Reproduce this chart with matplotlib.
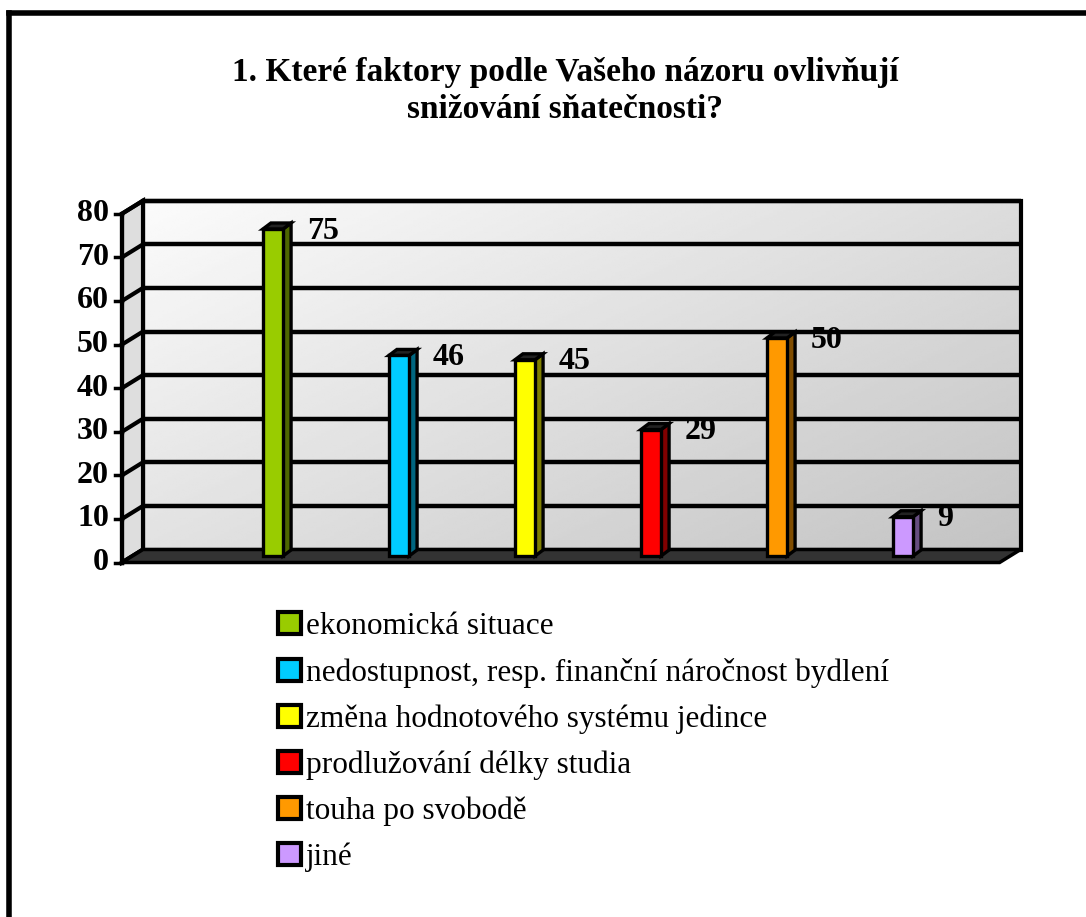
import numpy as np
import matplotlib
matplotlib.use("Agg")
import matplotlib.pyplot as plt
from matplotlib.patches import Polygon, Patch
from matplotlib.lines import Line2D

plt.rcParams["font.family"] = ["Liberation Serif", "DejaVu Serif"]

# data
title_lines = ["1. Které faktory podle Vašeho názoru ovlivňují",
               "snižování sňatečnosti?"]
categories = ["ekonomická situace",
              "nedostupnost, resp. finanční náročnost bydlení",
              "změna hodnotového systému jedince",
              "prodlužování délky studia",
              "touha po svobodě",
              "jiné"]
values = [75, 46, 45, 29, 50, 9]
colors = ["#99cc00", "#00ccff", "#ffff00", "#ff0000", "#ff9900", "#cc99ff"]
side_colors = ["#4d6600", "#006680", "#808000", "#800000", "#804d00", "#664d80"]
yticks = [0, 10, 20, 30, 40, 50, 60, 70, 80]

W, H = 1086, 917
fig = plt.figure(figsize=(W / 100, H / 100), dpi=100)

# axes spans the whole figure; data units chosen so one category = 126 px, one unit = 4.36 px
X0, DX = 273.0, 126.0
Y0, SY = 556.0, 4.36
ax = fig.add_axes([0, 0, 1, 1])
ax.set_xlim((0 - X0) / DX, (W - X0) / DX)
ax.set_ylim((Y0 - H) / SY, Y0 / SY)
ax.axis("off")

px = 1.0 / DX   # one pixel in x data
py = 1.0 / SY   # one pixel in y data

xl, xr = -1.115, 5.85          # left / right edge of wall at bar plane
ox, oy = 10.5 * px, 6.5 * py   # depth offset from bar plane to back wall
ymax = 80

# back wall with gradient (light top-left -> grey bottom-right)
back = Polygon([(xl + ox, oy), (xr + ox, oy), (xr + ox, ymax + oy), (xl + ox, ymax + oy)],
               closed=True, facecolor="none", edgecolor="black", lw=3, zorder=2)
ax.add_patch(back)
gx, gy = np.meshgrid(np.linspace(0, 1, 200), np.linspace(0, 1, 200))
grad = 0.985 - 0.22 * (0.55 * gx + 0.45 * gy)
im = ax.imshow(grad, cmap="gray", vmin=0, vmax=1, origin="upper", aspect="auto",
               extent=(xl + ox, xr + ox, oy, ymax + oy), zorder=1, interpolation="bilinear")
im.set_clip_path(back)

# left side wall
side = Polygon([(xl - ox, -oy), (xl + ox, oy), (xl + ox, ymax + oy), (xl - ox, ymax - oy)],
               closed=True, facecolor="#dedede", edgecolor="black", lw=3, zorder=2)
ax.add_patch(side)
im2 = ax.imshow(np.linspace(0.93, 0.82, 100).reshape(-1, 1), cmap="gray", vmin=0, vmax=1,
                origin="upper", aspect="auto",
                extent=(xl - ox, xl + ox, -oy, ymax + oy), zorder=1.5)
im2.set_clip_path(side)

# floor
floor = Polygon([(xl - ox, -oy), (xr - ox, -oy), (xr + ox, oy), (xl + ox, oy)],
                closed=True, facecolor="#333333", edgecolor="black", lw=2.5, zorder=2.5)
ax.add_patch(floor)

# gridlines, side wall lines, ticks and tick labels
for v in yticks:
    if v > 0:
        ax.plot([xl + ox, xr + ox], [v + oy, v + oy], color="black", lw=3.2, zorder=2.2,
                solid_capstyle="butt")
    ax.plot([xl - ox, xl + ox], [v - oy, v + oy], color="black", lw=3, zorder=2.2)
    ax.plot([xl - ox - 7 * px, xl - ox], [v - oy, v - oy], color="black", lw=2.5, zorder=2.2)
    ax.text(xl - ox - 13 * px, v - oy, str(v), ha="right", va="center",
            fontsize=23, fontweight="bold")
ax.plot([xl - ox, xl - ox], [-oy, ymax - oy], color="black", lw=3, zorder=2.6)

# bars
x = np.arange(len(values))
bw = 0.16
bdx, bdy = 8 * px, 6 * py
ax.bar(x, values, width=bw, color=colors, edgecolor="black", lw=2.4, zorder=4)
for xi, v, sc in zip(x, values, side_colors):
    ax.add_patch(Polygon([(xi + bw / 2, 0), (xi + bw / 2 + bdx, bdy),
                          (xi + bw / 2 + bdx, v + bdy), (xi + bw / 2, v)],
                         closed=True, facecolor=sc, edgecolor="black", lw=2.4, zorder=3.8))
    ax.add_patch(Polygon([(xi - bw / 2, v), (xi + bw / 2, v),
                          (xi + bw / 2 + bdx, v + bdy), (xi - bw / 2 + bdx, v + bdy)],
                         closed=True, facecolor="#222222", edgecolor="black", lw=2.4, zorder=3.8))
    ax.text(xi + 0.27, v - 0.5, str(v), ha="left", va="center",
            fontsize=23, fontweight="bold", zorder=5)

# title
fig.text(565 / W, 1 - 73 / H, title_lines[0], ha="center", va="center",
         fontsize=24, fontweight="bold")
fig.text(565 / W, 1 - 110 / H, title_lines[1], ha="center", va="center",
         fontsize=24, fontweight="bold")

# legend
handles = [Patch(facecolor=c, edgecolor="black", lw=3) for c in colors]
fig.legend(handles, categories, loc="upper left", bbox_to_anchor=(278 / W, 1 - 612 / H),
           frameon=False, fontsize=22.5, handlelength=0.72, handleheight=0.72,
           handletextpad=0.18, labelspacing=0.53, borderpad=0, borderaxespad=0)

# outer frame
fig.add_artist(Line2D([8.5 / W, 1], [1 - 12.5 / H, 1 - 12.5 / H], color="black", lw=4,
                      transform=fig.transFigure))
fig.add_artist(Line2D([8.5 / W, 8.5 / W], [0, 1 - 12.5 / H], color="black", lw=4,
                      transform=fig.transFigure))

fig.savefig("out.png", dpi=100)
